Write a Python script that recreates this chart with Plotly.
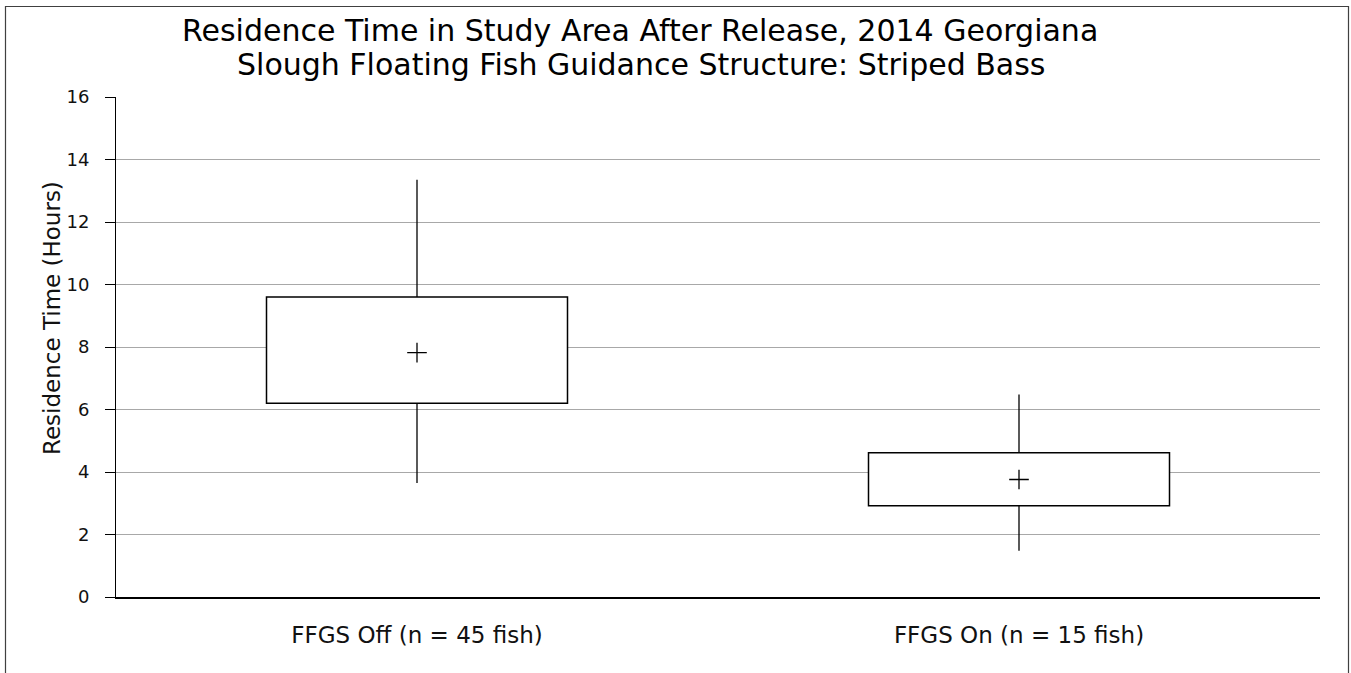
import plotly.graph_objects as go

categories = ["FFGS Off (n = 45 fish)", "FFGS On (n = 15 fish)"]
q1 = [6.2, 2.92]
q3 = [9.6, 4.62]
whisker_low = [3.65, 1.48]
whisker_high = [13.35, 6.48]
means = [7.82, 3.76]
y_ticks = [0, 2, 4, 6, 8, 10, 12, 14, 16]

title_line1 = "Residence Time in Study Area After Release, 2014 Georgiana"
title_line2 = "Slough Floating Fish Guidance Structure: Striped Bass"
y_title = "Residence Time (Hours)"

FONT = "DejaVu Sans, Liberation Sans, Arial, sans-serif"

W, H = 1351, 673
L, R, T, B = 116, 31, 97, 76
PW, PH = W - L - R, H - T - B


def px(xp):
    return (xp - L) / PW


def py(yp):
    return (H - B - yp) / PH


fig = go.Figure()

# whiskers (two segments per category)
wx, wy = [], []
for c, lo, a, b, hi in zip(categories, whisker_low, q1, q3, whisker_high):
    wx += [c, c, None, c, c, None]
    wy += [lo, a, None, b, hi, None]
fig.add_trace(go.Scatter(x=wx, y=wy, mode="lines",
                         line=dict(color="black", width=1.3),
                         hoverinfo="skip", showlegend=False))

# boxes
fig.add_trace(go.Bar(x=categories, y=[b - a for a, b in zip(q1, q3)], base=q1,
                     width=0.5, marker=dict(color="white",
                                            line=dict(color="black", width=1.5)),
                     showlegend=False))

# means
fig.add_trace(go.Scatter(x=categories, y=means, mode="markers",
                         marker=dict(symbol="cross-thin", size=14,
                                     line=dict(color="black", width=1.3)),
                         showlegend=False))

fig.update_layout(
    width=W, height=H,
    margin=dict(l=L, r=R, t=T, b=B),
    paper_bgcolor="white", plot_bgcolor="white",
    font=dict(family=FONT, color="black"),
    annotations=[
        dict(text=title_line1, xref="paper", yref="paper",
             x=px(640), y=py(30), xanchor="center", yanchor="middle",
             showarrow=False, font=dict(size=30, family=FONT, color="black")),
        dict(text=title_line2, xref="paper", yref="paper",
             x=px(641), y=py(65), xanchor="center", yanchor="middle",
             showarrow=False, font=dict(size=30, family=FONT, color="black")),
        dict(text=y_title, xref="paper", yref="paper", textangle=-90,
             x=px(52), y=py(318), xanchor="center", yanchor="middle",
             showarrow=False, font=dict(size=23, family=FONT, color="#111")),
    ],
    shapes=[
        dict(type="rect", xref="paper", yref="paper",
             x0=px(5.5), x1=px(1348.5), y0=py(720), y1=py(6.5),
             line=dict(color="#404040", width=1.2), fillcolor="rgba(0,0,0,0)", layer="below"),
    ],
)

fig.update_xaxes(type="category", range=[-0.5, 1.5], showgrid=False,
                 showline=True, linecolor="black", linewidth=1.5,
                 ticks="", tickfont=dict(size=23, family=FONT, color="#111"),
                 ticklabelstandoff=17)
fig.update_yaxes(range=[0, 16], tickvals=y_ticks, showgrid=True,
                 gridcolor="#a8a8a8", gridwidth=1,
                 showline=True, linecolor="black", linewidth=1,
                 ticks="outside", ticklen=10, tickcolor="black",
                 tickfont=dict(size=18, family=FONT, color="#111"),
                 ticklabelstandoff=12,
                 zeroline=False)

fig.write_html("out.html", config={"displayModeBar": False},
               post_script="document.body.style.margin='0';")
